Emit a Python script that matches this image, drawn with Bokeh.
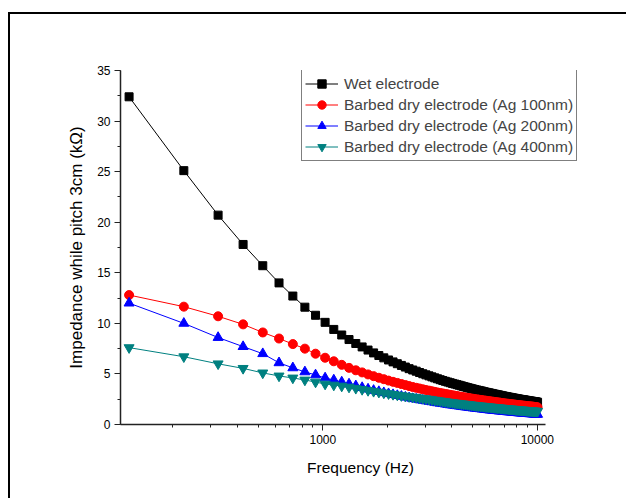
from bokeh.plotting import figure
from bokeh.models import FixedTicker, SingleIntervalTicker, NumeralTickFormatter
from bokeh.embed import file_html
from bokeh.resources import INLINE

# ---- data ----
freq_hz = list(range(125, 10026, 100))

wet = [32.4, 25.1, 20.7, 17.8, 15.7, 14.0, 12.7, 11.6, 10.8, 10.1, 9.4, 8.85, 8.4,
       8.01, 7.67, 7.36, 7.08, 6.82, 6.59, 6.38,
       6.19, 6.01, 5.84, 5.68, 5.52,
       5.39, 5.27, 5.14, 5.02, 4.91,
       4.81, 4.71, 4.61, 4.52, 4.43,
       4.35, 4.27, 4.20, 4.13, 4.06,
       4.00, 3.94, 3.88, 3.82, 3.76, 3.71, 3.65, 3.60, 3.55, 3.50,
       3.45, 3.41, 3.37, 3.33, 3.29, 3.25, 3.21, 3.17, 3.14, 3.10,
       3.07, 3.03, 3.00, 2.97, 2.94, 2.91, 2.88, 2.85, 2.82, 2.79,
       2.76, 2.74, 2.71, 2.69, 2.67, 2.64, 2.62, 2.60, 2.57, 2.55,
       2.53, 2.51, 2.49, 2.47, 2.45, 2.44, 2.42, 2.40, 2.38, 2.36,
       2.34, 2.33, 2.31, 2.30, 2.28, 2.27, 2.25, 2.24, 2.22, 2.20]

ag100 = [12.8, 11.65, 10.7, 9.9, 9.1, 8.5, 7.95, 7.5, 7.0, 6.6, 6.25, 5.9, 5.6,
         5.36, 5.15, 4.95, 4.78, 4.62, 4.48, 4.34,
         4.22, 4.11, 4.00, 3.90, 3.80,
         3.71, 3.63, 3.56, 3.48, 3.41,
         3.35, 3.29, 3.23, 3.17, 3.12,
         3.07, 3.02, 2.98, 2.93, 2.89,
         2.85, 2.81, 2.77, 2.74, 2.70, 2.67, 2.63, 2.60, 2.57, 2.54,
         2.51, 2.48, 2.46, 2.43, 2.41, 2.38, 2.36, 2.34, 2.31, 2.29,
         2.27, 2.25, 2.23, 2.21, 2.19, 2.17, 2.15, 2.13, 2.11, 2.09,
         2.07, 2.06, 2.04, 2.03, 2.01, 2.00, 1.98, 1.97, 1.95, 1.94,
         1.93, 1.91, 1.90, 1.89, 1.87, 1.86, 1.85, 1.84, 1.82, 1.81,
         1.80, 1.79, 1.78, 1.77, 1.76, 1.75, 1.74, 1.72, 1.71, 1.70]

ag200 = [12.0, 10.0, 8.6, 7.7, 7.0, 6.1, 5.6, 5.2, 4.9, 4.6, 4.4, 4.2, 4.0,
         3.82, 3.65, 3.50, 3.37, 3.25, 3.14, 3.04,
         2.95, 2.86, 2.78, 2.70, 2.63,
         2.56, 2.50, 2.45, 2.39, 2.34,
         2.29, 2.24, 2.19, 2.14, 2.10,
         2.06, 2.02, 1.98, 1.94, 1.91,
         1.88, 1.85, 1.82, 1.79, 1.76, 1.73, 1.71, 1.68, 1.66, 1.63,
         1.61, 1.59, 1.57, 1.55, 1.53, 1.51, 1.49, 1.47, 1.45, 1.43,
         1.42, 1.40, 1.39, 1.37, 1.36, 1.34, 1.33, 1.32, 1.30, 1.29,
         1.28, 1.26, 1.25, 1.24, 1.23, 1.22, 1.21, 1.20, 1.18, 1.17,
         1.16, 1.15, 1.14, 1.13, 1.12, 1.12, 1.11, 1.10, 1.09, 1.08,
         1.07, 1.06, 1.06, 1.05, 1.04, 1.03, 1.02, 1.02, 1.01, 1.00]

ag400 = [7.6, 6.7, 6.0, 5.55, 5.1, 4.8, 4.6, 4.4, 4.2, 4.0, 3.9, 3.8, 3.7,
         3.58, 3.47, 3.37, 3.28, 3.20, 3.12, 3.05,
         2.98, 2.92, 2.86, 2.81, 2.76,
         2.71, 2.67, 2.62, 2.58, 2.54,
         2.50, 2.45, 2.41, 2.37, 2.33,
         2.29, 2.26, 2.22, 2.19, 2.16,
         2.13, 2.10, 2.08, 2.05, 2.03, 2.00, 1.98, 1.96, 1.93, 1.91,
         1.89, 1.87, 1.85, 1.83, 1.82, 1.80, 1.78, 1.76, 1.75, 1.73,
         1.72, 1.70, 1.69, 1.67, 1.66, 1.65, 1.63, 1.62, 1.60, 1.59,
         1.58, 1.57, 1.55, 1.54, 1.53, 1.52, 1.51, 1.50, 1.48, 1.47,
         1.46, 1.45, 1.44, 1.43, 1.42, 1.42, 1.41, 1.40, 1.39, 1.38,
         1.37, 1.36, 1.36, 1.35, 1.34, 1.33, 1.32, 1.32, 1.31, 1.30]

x_major_ticks = [1000, 10000]
x_minor_ticks = [200, 300, 400, 500, 600, 700, 800, 900,
                 2000, 3000, 4000, 5000, 6000, 7000, 8000, 9000]
x_axis_start, x_axis_end = 114, 10900

labels = ["Wet electrode",
          "Barbed dry electrode (Ag 100nm)",
          "Barbed dry electrode (Ag 200nm)",
          "Barbed dry electrode (Ag 400nm)"]

FONT = "Liberation Sans"

p = figure(width=618, height=486, x_axis_type="log",
           x_range=(x_axis_start, 19700), y_range=(0, 35),
           output_backend="svg", toolbar_location=None,
           min_border_left=110, min_border_right=28,
           min_border_top=56, min_border_bottom=76,
           styles={"border-left": "2px solid #000", "border-top": "2px solid #000",
                   "margin-top": "12px", "margin-left": "8px"})

p.xgrid.visible = False
p.ygrid.visible = False
p.outline_line_color = None
p.background_fill_color = "white"
p.border_fill_color = "white"

series = [
    (wet, "black", "square", 8),
    (ag100, "red", "circle", 9),
    (ag200, "blue", "triangle", 10),
    (ag400, "#008080", "inverted_triangle", 10),
]
for (vals, col, mk, sz), lab in zip(series, labels):
    p.line(freq_hz, vals, line_color=col, line_width=1, legend_label=lab)
    p.scatter(freq_hz, vals, marker=mk, size=sz, fill_color=col, line_color=col,
              legend_label=lab)

# axes
p.xaxis.ticker = FixedTicker(ticks=x_major_ticks, minor_ticks=x_minor_ticks)
p.xaxis.formatter = NumeralTickFormatter(format="0")
p.xaxis.bounds = (x_axis_start, x_axis_end)
p.yaxis.ticker = SingleIntervalTicker(interval=5, num_minor_ticks=2)

for ax in (p.xaxis[0], p.yaxis[0]):
    ax.axis_line_width = 1.5
    ax.axis_line_color = "#222222"
    ax.major_tick_line_color = "#222222"
    ax.minor_tick_line_color = "#222222"
    ax.major_tick_in = 0
    ax.minor_tick_in = 0
    ax.major_tick_out = 6
    ax.minor_tick_out = 3
    ax.major_label_text_font = FONT
    ax.major_label_text_font_size = "12px"
    ax.major_label_text_color = "black"
    ax.major_label_standoff = 4
    ax.axis_label_text_font = FONT
    ax.axis_label_text_font_style = "normal"
    ax.axis_label_text_color = "black"

p.xaxis.axis_label = "Frequency (Hz)"
p.yaxis.axis_label = "Impedance while pitch 3cm (k\u03a9)"
p.xaxis.axis_label_text_font_size = "15.5px"
p.yaxis.axis_label_text_font_size = "17px"
p.xaxis.axis_label_standoff = 12
p.yaxis.axis_label_standoff = 8

# legend
lg = p.legend[0]
lg.location = (181, 263)
lg.label_text_font = FONT
lg.label_text_font_size = "15.5px"
lg.label_height = 21
lg.glyph_height = 21
lg.glyph_width = 33
lg.spacing = 0
lg.padding = 3
lg.margin = 0
lg.label_standoff = 6
lg.border_line_color = "black"
lg.border_line_width = 1
lg.background_fill_alpha = 1.0

open("out.html", "w").write(file_html(p, INLINE))
